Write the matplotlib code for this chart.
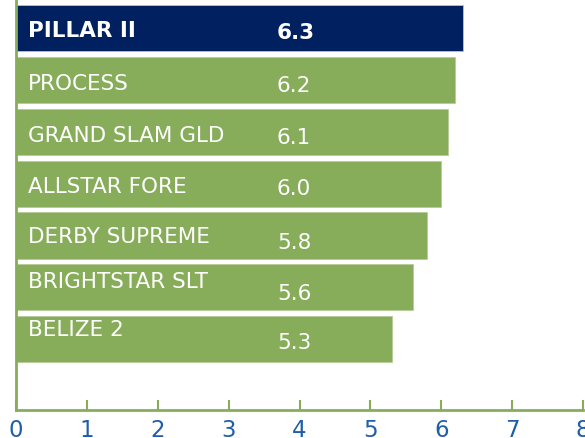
import matplotlib.pyplot as plt
import numpy as np

plt.rcParams['font.family'] = ['DejaVu Sans']

varieties = ['PILLAR II', 'PROCESS', 'GRAND SLAM GLD', 'ALLSTAR FORE',
             'DERBY SUPREME', 'BRIGHTSTAR SLT', 'BELIZE 2']
scores = [6.3, 6.2, 6.1, 6.0, 5.8, 5.6, 5.3]
x_ticks = [0, 1, 2, 3, 4, 5, 6, 7, 8]

green = '#87ad5a'
navy = '#002060'
tick_blue = '#1f5ea8'

# label nudges in points (positive = up), mimicking the wrapped Excel labels
name_shift = [0, -1, -0.5, 0, 1, 6, 9]
value_shift = [-1, -2, -2, -2, -3, -2.5, -1]

fig = plt.figure(figsize=(5.85, 4.39), dpi=100)
ax = fig.add_axes([16.2 / 585, 28 / 439, (583 - 16.2) / 585, 411 / 439])

y = np.arange(len(varieties))
colors = [navy] + [green] * (len(varieties) - 1)
ax.barh(y, scores, height=0.89, color=colors, edgecolor='#b5cc98', linewidth=0.6)

for i, (name, val) in enumerate(zip(varieties, scores)):
    weight = 'bold' if i == 0 else 'normal'
    ax.annotate(name, (0.17, i), xytext=(0, name_shift[i]), textcoords='offset points',
                color='white', fontsize=15.5, fontweight=weight,
                va='center_baseline', ha='left')
    ax.annotate(f'{val:.1f}', (3.68, i), xytext=(0, value_shift[i]), textcoords='offset points',
                color='white', fontsize=15.5, fontweight=weight,
                va='center_baseline', ha='left')

ax.set_xlim(0, 8)
ax.set_ylim(7.37, -0.566)
ax.set_xticks(x_ticks)
ax.set_xticklabels([str(t) for t in x_ticks])
ax.set_yticks([])

for s in ['top', 'right']:
    ax.spines[s].set_visible(False)
for s in ['left', 'bottom']:
    ax.spines[s].set_color(green)
    ax.spines[s].set_linewidth(2)

ax.tick_params(axis='x', direction='in', length=7, width=1.5, color=green,
               labelcolor=tick_blue, labelsize=16.5, pad=6)

fig.savefig('out.png', dpi=100)
